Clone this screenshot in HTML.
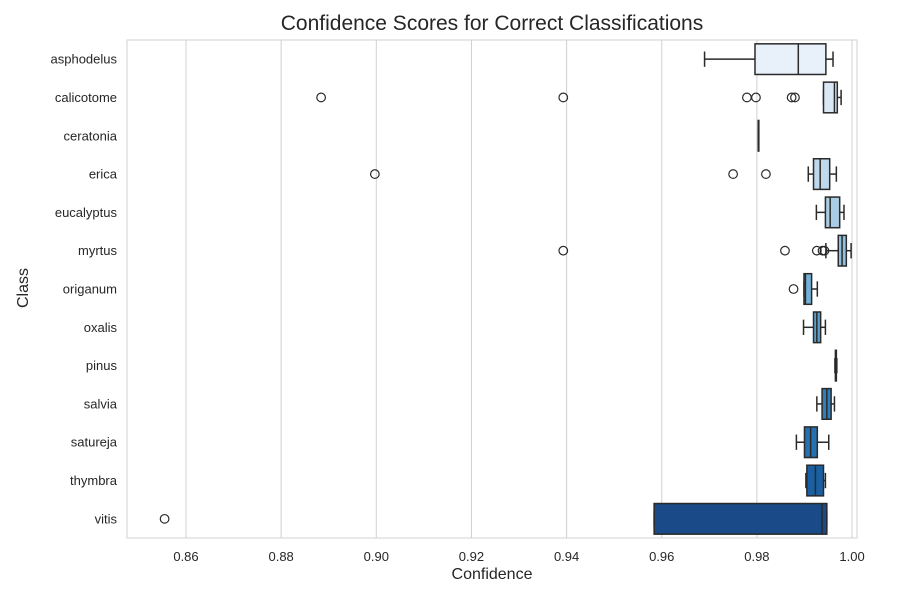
<!DOCTYPE html>
<html><head><meta charset="utf-8"><style>body{margin:0;background:#fff}svg{display:block;font-family:"Liberation Sans",sans-serif}</style></head>
<body>
<svg id="chart" width="900" height="600"></svg>
<script>
const categories=["asphodelus","calicotome","ceratonia","erica","eucalyptus","myrtus","origanum","oxalis","pinus","salvia","satureja","thymbra","vitis"];
const whiskerLow=[0.969,0.994,0.9803,0.9908,0.9925,0.9945,0.9899,0.9898,0.9964,0.9926,0.9883,0.9903,0.9584];
const q1Values=[0.9796,0.994,0.9803,0.9919,0.9944,0.9971,0.9899,0.9919,0.9965,0.9937,0.99,0.9905,0.9584];
const medianValues=[0.9887,0.9963,0.9803,0.9933,0.9954,0.9979,0.9902,0.9926,0.9966,0.9947,0.9913,0.9923,0.9937];
const q3Values=[0.9945,0.9969,0.9803,0.9953,0.9974,0.9988,0.9915,0.9934,0.9967,0.9956,0.9927,0.994,0.9947];
const whiskerHigh=[0.996,0.9977,0.9803,0.9967,0.9983,0.9998,0.9927,0.9944,0.9968,0.9963,0.9951,0.9944,0.9947];
const outliers=[[],[0.8884,0.9393,0.9779,0.9798,0.9873,0.988],[],[0.8997,0.975,0.9819],[],[0.9393,0.9859,0.9926,0.9938,0.9942],[0.9877],[],[],[],[],[],[0.8555]];
const xTicks=[0.86,0.88,0.90,0.92,0.94,0.96,0.98,1.00];
const colors=["#e8f1fa","#dae8f5","#cde0f1","#bfd8ec","#a9cde4","#90c0de","#74b1d7","#5aa0cd","#4190c2","#317fba","#2470b0","#1a5fa3","#1a4a87"];
const L=127,R=857,T=40,B=538;
const x=v=>186+(v-0.86)*4757.5;
const bandH=(B-T)/categories.length;
const y=i=>T+bandH*(i+0.5);
const svg=document.getElementById('chart');
const NS="http://www.w3.org/2000/svg";
function mk(tag,attrs,parent){const e=document.createElementNS(NS,tag);for(const k in attrs)e.setAttribute(k,attrs[k]);(parent||svg).appendChild(e);return e;}
xTicks.forEach(t=>{
 const g=mk('line',{x1:x(t),x2:x(t),y1:T,y2:B,stroke:'#d0d0d0','stroke-width':1});
 
 
 const tl=mk('text',{x:x(t),y:B+23,'text-anchor':'middle','font-size':13,fill:'#262626'});
 tl.textContent=t.toFixed(2);
 
 
});
const fr=mk('rect',{x:L,y:T,width:R-L,height:B-T,fill:'none',stroke:'#d0d0d0'});


const bh=bandH*0.8;
categories.forEach((c,i)=>{
 const cy=y(i);
 const lab=mk('text',{x:117,y:cy+4.5,'text-anchor':'end','font-size':13,fill:'#262626'});
 lab.textContent=c;
 
 
 const g=mk('g',{});
 
 
 const st={stroke:'#2a2a2a','stroke-width':1.5,fill:'none'};
 mk('line',Object.assign({x1:x(whiskerLow[i]),x2:x(q1Values[i]),y1:cy,y2:cy},st),g);
 mk('line',Object.assign({x1:x(q3Values[i]),x2:x(whiskerHigh[i]),y1:cy,y2:cy},st),g);
 mk('line',Object.assign({x1:x(whiskerLow[i]),x2:x(whiskerLow[i]),y1:cy-bh/4,y2:cy+bh/4},st),g);
 mk('line',Object.assign({x1:x(whiskerHigh[i]),x2:x(whiskerHigh[i]),y1:cy-bh/4,y2:cy+bh/4},st),g);
 mk('rect',{x:x(q1Values[i]),y:cy-bh/2,width:Math.max(x(q3Values[i])-x(q1Values[i]),0.5),height:bh,fill:colors[i],stroke:'#2a2a2a','stroke-width':1.5},g);
 mk('line',Object.assign({x1:x(medianValues[i]),x2:x(medianValues[i]),y1:cy-bh/2,y2:cy+bh/2},st),g);
 outliers[i].forEach(v=>{
  const o=mk('circle',{cx:x(v),cy:cy,r:4.3,fill:'none',stroke:'#2a2a2a','stroke-width':1.2});
  
  
 });
});
</script>
<div style="position:absolute;left:0;top:0;width:900px;height:600px;pointer-events:none;font-family:'Liberation Sans',sans-serif">
<div style="position:absolute;left:127px;width:730px;top:12px;text-align:center;font-size:21px;color:#262626">Confidence Scores for Correct Classifications</div>
<div style="position:absolute;left:127px;width:730px;top:566px;text-align:center;font-size:16px;color:#262626">Confidence</div>
<div style="position:absolute;left:-26px;top:279px;width:100px;text-align:center;font-size:16px;color:#262626;transform:rotate(-90deg)">Class</div>
</div>
</body></html>
